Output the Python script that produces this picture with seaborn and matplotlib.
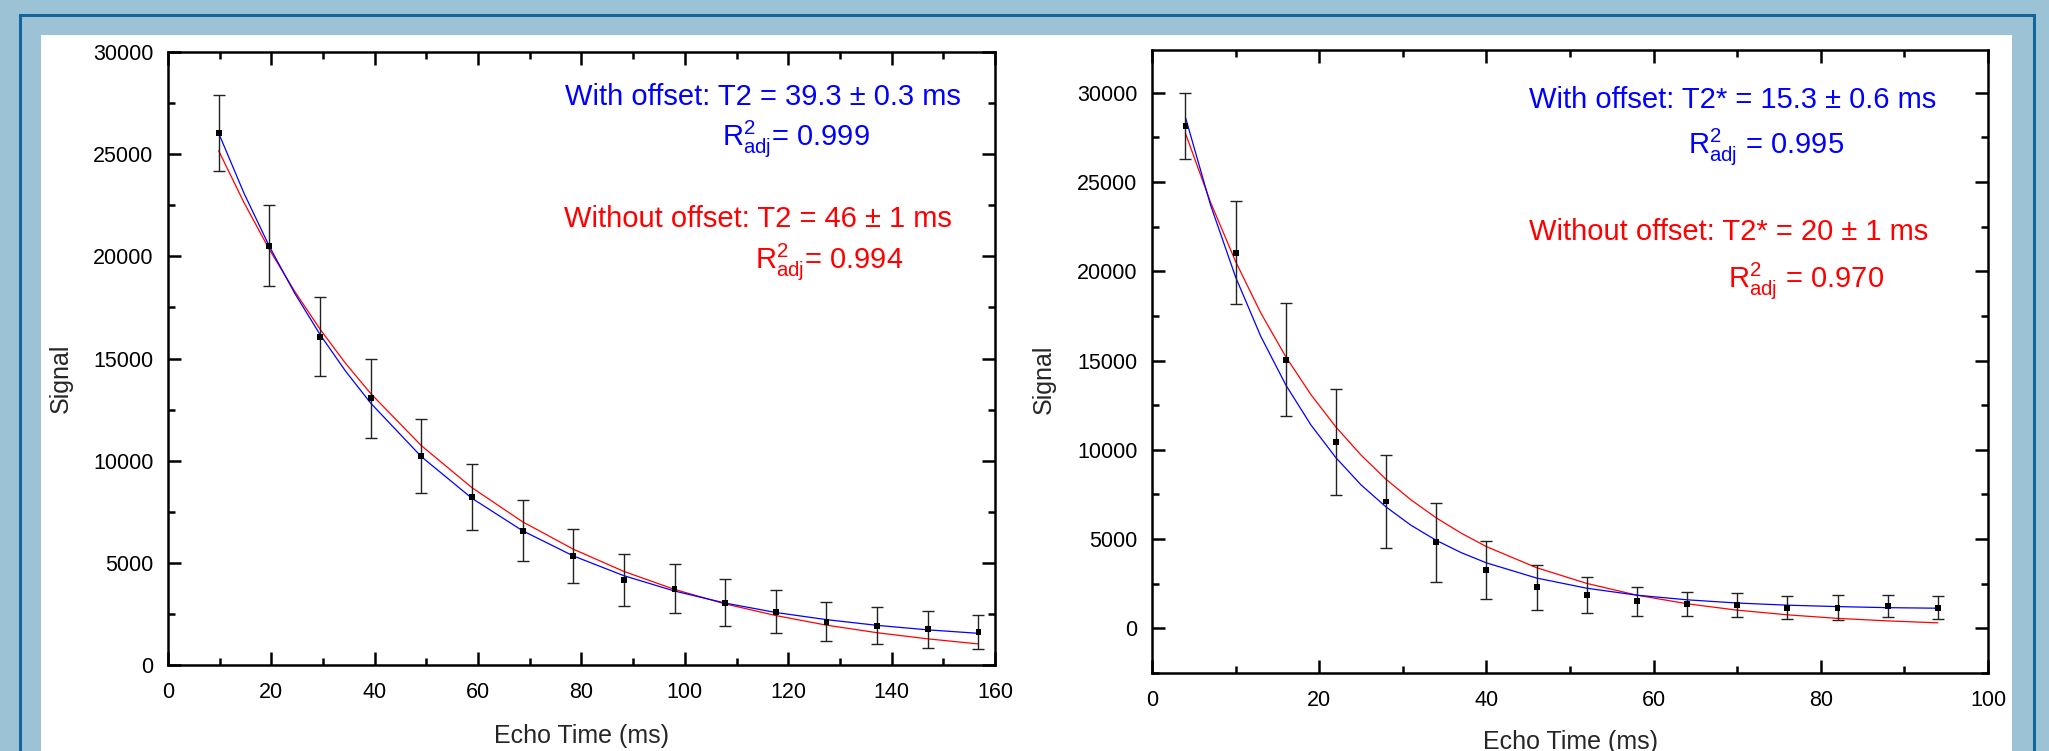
"""Two-panel T2 / T2* decay fits with error bars, recreated with seaborn."""

import matplotlib
matplotlib.use("Agg")
import matplotlib.pyplot as plt
import matplotlib.ticker as mticker
from matplotlib.patches import Rectangle
import seaborn as sns

# ── data: T2 (spin echo) ─────────────────────────────────────────────────────
te_t2  = [9.8, 19.6, 29.4, 39.2, 49.0, 58.8, 68.6, 78.4, 88.2, 98.0,
          107.8, 117.6, 127.4, 137.2, 147.0, 156.8]
sig_t2 = [26020, 20510, 16070, 13050, 10230, 8240, 6570, 5330, 4160, 3740,
          3050, 2610, 2120, 1930, 1750, 1630]
err_t2 = [1860, 1980, 1930, 1950, 1790, 1620, 1490, 1340, 1260, 1210,
          1140, 1050, 960, 920, 900, 830]

fit_te_t2    = [9.8, 14.7, 19.6, 24.5, 29.4, 34.3, 39.2, 49.0, 58.8, 68.6,
                78.4, 88.2, 98.0, 107.8, 117.6, 127.4, 137.2, 147.0, 156.8]
fit_off_t2   = [26030, 23090, 20490, 18200, 16180, 14400, 12820, 10200, 8160, 6570,
                5340, 4370, 3620, 3030, 2570, 2220, 1940, 1720, 1550]
fit_nooff_t2 = [25170, 22630, 20340, 18290, 16440, 14780, 13290, 10740, 8680, 7010,
                5670, 4580, 3700, 2990, 2420, 1950, 1580, 1280, 1030]

# ── data: T2* (gradient echo) ────────────────────────────────────────────────
te_t2s  = [4, 10, 16, 22, 28, 34, 40, 46, 52, 58, 64, 70, 76, 82, 88, 94]
sig_t2s = [28130, 21040, 15040, 10460, 7110, 4830, 3270, 2300, 1870, 1520,
           1350, 1290, 1160, 1160, 1240, 1160]
err_t2s = [1850, 2890, 3170, 2970, 2590, 2210, 1630, 1250, 1030, 820,
           680, 670, 650, 690, 630, 650]

fit_te_t2s    = [4, 7, 10, 13, 16, 19, 22, 25, 28, 31, 34, 37, 40,
                 46, 52, 58, 64, 70, 76, 82, 88, 94]
fit_off_t2s   = [28630, 23720, 19680, 16370, 13640, 11400, 9560, 8040, 6800, 5770,
                 4930, 4240, 3670, 2820, 2250, 1860, 1600, 1420, 1300, 1220, 1160, 1130]
fit_nooff_t2s = [27730, 23870, 20550, 17680, 15220, 13100, 11280, 9710, 8350, 7190,
                 6190, 5330, 4580, 3400, 2520, 1860, 1380, 1020, 760, 560, 420, 310]

# ── theme ────────────────────────────────────────────────────────────────────
sns.set_theme(style="ticks")
plt.rcParams["font.family"] = ["Liberation Sans", "DejaVu Sans"]
plt.rcParams["mathtext.fontset"] = "custom"
plt.rcParams["mathtext.rm"] = "Liberation Sans"

BG_BLUE   = "#9cc2d6"
EDGE_BLUE = "#13669c"
FIT_BLUE  = "#0000ff"
FIT_RED   = "#ff0000"
LABEL_FS  = 18
NOTE_FS   = 21

fig = plt.figure(figsize=(20.49, 7.51), dpi=100, facecolor=BG_BLUE)

# frame: dark blue rule and white panel (behind the axes)
fig.patches.append(Rectangle((0.00966, -0.1), 0.983, 1.0794, transform=fig.transFigure,
                             facecolor="none", edgecolor=EDGE_BLUE, linewidth=2.2, zorder=-2))
fig.patches.append(Rectangle((0.02001, -0.1), 0.96193, 1.0534, transform=fig.transFigure,
                             facecolor="white", edgecolor="none", zorder=-1))

ax1 = fig.add_axes([0.08199, 0.11451, 0.40361, 0.81625])
ax2 = fig.add_axes([0.56223, 0.10386, 0.40800, 0.82956])


def style_ax(ax):
    ax.set_facecolor("white")
    for sp in ax.spines.values():
        sp.set_visible(True)
        sp.set_linewidth(1.8)
        sp.set_color("black")
    ax.tick_params(which="both", direction="in", top=True, right=True,
                   labelsize=15.5, colors="black", width=1.8)
    ax.tick_params(which="major", length=9.5)
    ax.tick_params(which="minor", length=4.8)
    ax.tick_params(axis="x", which="major", pad=12)
    ax.tick_params(axis="y", which="major", pad=10.5)
    ax.xaxis.set_major_locator(mticker.MultipleLocator(20))
    ax.xaxis.set_minor_locator(mticker.MultipleLocator(10))
    ax.yaxis.set_major_locator(mticker.MultipleLocator(5000))
    ax.yaxis.set_minor_locator(mticker.MultipleLocator(2500))
    ax.grid(False)


def draw_panel(ax, te, sig, err, fit_te, fit_off, fit_nooff):
    sns.lineplot(x=fit_te, y=fit_nooff, ax=ax, color=FIT_RED, linewidth=0.9, zorder=3)
    sns.lineplot(x=fit_te, y=fit_off, ax=ax, color=FIT_BLUE, linewidth=0.9, zorder=3)
    ax.errorbar(te, sig, yerr=err, fmt="none", ecolor="#222222",
                elinewidth=1.0, capsize=4.5, capthick=1.0, zorder=4)
    sns.scatterplot(x=te, y=sig, ax=ax, marker="s", s=18, color="black",
                    edgecolor="none", zorder=5)


def annotate(ax, pos, lines):
    for (x, y), (txt, col) in zip(pos, lines):
        ax.text(x, y, txt, transform=ax.transAxes, ha="left", va="baseline",
                fontsize=NOTE_FS, color=col)


# ── Panel 1 — T2 ─────────────────────────────────────────────────────────────
style_ax(ax1)
draw_panel(ax1, te_t2, sig_t2, err_t2, fit_te_t2, fit_off_t2, fit_nooff_t2)
ax1.set_xlim(0, 160)
ax1.set_ylim(0, 30000)
ax1.set_xlabel("Echo Time (ms)", fontsize=LABEL_FS)
ax1.set_ylabel("Signal", fontsize=LABEL_FS)
ax1.xaxis.set_label_coords(0.5, -0.097)
ax1.yaxis.set_label_coords(-0.115, 0.467)
annotate(ax1,
         [(0.480, 0.9135), (0.670, 0.848), (0.479, 0.7145), (0.710, 0.6476)],
         [("With offset: T2 = 39.3 ± 0.3 ms", FIT_BLUE),
          (r"$\mathregular{R^{2}_{adj}}$= 0.999", FIT_BLUE),
          ("Without offset: T2 = 46 ± 1 ms", FIT_RED),
          (r"$\mathregular{R^{2}_{adj}}$= 0.994", FIT_RED)])

# ── Panel 2 — T2* ────────────────────────────────────────────────────────────
style_ax(ax2)
draw_panel(ax2, te_t2s, sig_t2s, err_t2s, fit_te_t2s, fit_off_t2s, fit_nooff_t2s)
ax2.set_xlim(0, 100)
ax2.set_ylim(-2500, 32400)
ax2.set_xlabel("Echo Time (ms)", fontsize=LABEL_FS)
ax2.set_ylabel("Signal", fontsize=LABEL_FS)
ax2.xaxis.set_label_coords(0.5, -0.0915)
ax2.yaxis.set_label_coords(-0.115, 0.472)
annotate(ax2,
         [(0.451, 0.907), (0.641, 0.834), (0.451, 0.695), (0.689, 0.620)],
         [("With offset: T2* = 15.3 ± 0.6 ms", FIT_BLUE),
          (r"$\mathregular{R^{2}_{adj}}$ = 0.995", FIT_BLUE),
          ("Without offset: T2* = 20 ± 1 ms", FIT_RED),
          (r"$\mathregular{R^{2}_{adj}}$ = 0.970", FIT_RED)])

fig.savefig("out.png", dpi=100, facecolor=fig.get_facecolor())
